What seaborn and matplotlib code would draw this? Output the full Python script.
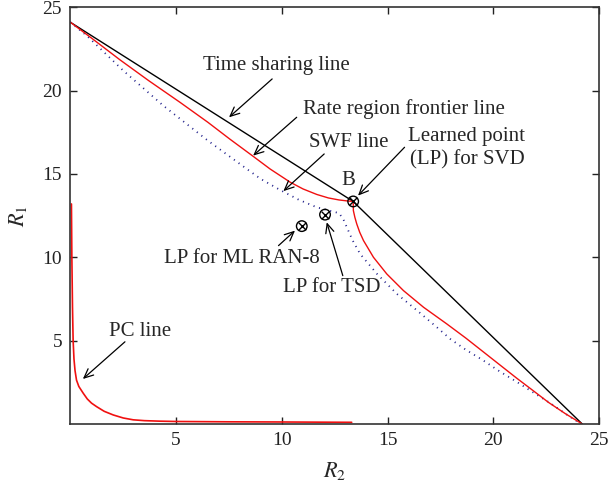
import matplotlib
matplotlib.use("Agg")
import matplotlib.pyplot as plt
import seaborn as sns

# curve data
ts_r2 = [0, 13.37, 24.2]
ts_r1 = [24.1, 13.35, 0]

rate_r2 = [0, 1.0, 2.34, 3.7, 5.18, 6.5, 7.55, 8.65, 9.44, 10.4, 11.0, 11.65, 12.2, 12.7, 13.1, 13.37,
           13.38, 13.45, 13.54, 13.68, 13.86, 14.33, 14.96, 15.75, 16.7, 17.8, 18.7, 19.5,
           20.3, 21.1, 21.9, 22.6, 23.4, 24.2]
rate_r1 = [24.1, 23.15, 21.85, 20.6, 19.3, 18.1, 17.08, 16.05, 15.3, 14.5, 14.1, 13.77, 13.56, 13.44, 13.38, 13.35,
           12.8, 12.4, 12.0, 11.5, 11.0, 10.0, 9.0, 8.0, 7.0, 6.0, 5.15, 4.35,
           3.55, 2.75, 1.98, 1.3, 0.62, 0]

swf_r2 = [0, 0.77, 2.5, 4.39, 6.5, 8.34, 9.0, 9.9, 10.8, 11.65, 12.3, 12.7,
          12.9, 13.07, 13.35, 13.7, 14.1, 14.5, 15.44, 16.4, 17.33, 17.96, 18.7, 19.5,
          20.3, 21.1, 21.9, 22.7, 23.4, 24.15]
swf_r1 = [24.1, 23.3, 21.2, 19.1, 17.0, 15.3, 14.7, 14.05, 13.45, 13.0, 12.78, 12.65,
          12.3, 11.8, 11.0, 10.2, 9.6, 9.0, 7.8, 6.8, 5.8, 5.1, 4.45, 3.83,
          3.15, 2.53, 1.88, 1.24, 0.62, 0]

pc_r2 = [0.05, 0.07, 0.1, 0.13, 0.17, 0.22, 0.29, 0.4, 0.61, 0.8, 1.0, 1.24, 1.6, 2.03,
         2.5, 2.97, 3.5, 4.2, 5.0, 7.5, 10.0, 13.3]
pc_r1 = [13.2, 10.0, 7.0, 5.0, 3.9, 3.2, 2.63, 2.25, 1.84, 1.5, 1.25, 1.04, 0.76, 0.54,
         0.36, 0.25, 0.2, 0.17, 0.15, 0.13, 0.12, 0.1]

# learned points: SVD (B), TSD, ML RAN-8
lp_r2 = [13.37, 12.04, 10.94]
lp_r1 = [13.35, 12.56, 11.87]

sns.set_theme(style="ticks")
plt.rcParams['font.family'] = ['Liberation Serif', 'DejaVu Serif']
plt.rcParams['mathtext.fontset'] = 'stix'

fig = plt.figure(figsize=(6.12, 4.84), dpi=100)
ax = fig.add_axes([0.115, 0.124, 0.979 - 0.115, 0.985 - 0.124])

sns.lineplot(x=ts_r2, y=ts_r1, ax=ax, color='black', lw=1.0, sort=False, estimator=None)
sns.lineplot(x=swf_r2, y=swf_r1, ax=ax, color='#22228c', lw=1.3, sort=False, estimator=None,
             linestyle=(0, (0.6, 2.6)))
sns.lineplot(x=rate_r2, y=rate_r1, ax=ax, color='#f01010', lw=1.0, sort=False, estimator=None)
sns.lineplot(x=pc_r2, y=pc_r1, ax=ax, color='#f01010', lw=1.2, sort=False, estimator=None)

sns.scatterplot(x=lp_r2, y=lp_r1, ax=ax, marker='o', s=58, facecolor='none',
                edgecolor='black', linewidth=1.0, zorder=5)
sns.scatterplot(x=lp_r2, y=lp_r1, ax=ax, marker='x', s=30, color='black',
                linewidth=1.0, zorder=6)

fs = 15
arrow = dict(arrowstyle='->,head_length=0.55,head_width=0.25', color='black', lw=0.9,
             shrinkA=0, shrinkB=0)

def note(tail, tip):
    ax.annotate('', xy=tip, xytext=tail, arrowprops=arrow)

ax.text(6.27, 21.5, 'Time sharing line', fontsize=fs, ha='left', va='center')
note((9.54, 20.7), (7.5, 18.4))
ax.text(11.0, 18.9, 'Rate region frontier line', fontsize=fs, ha='left', va='center')
note((10.7, 18.4), (8.64, 16.1))
ax.text(11.3, 16.9, 'SWF line', fontsize=fs, ha='left', va='center')
note((12.0, 16.2), (10.07, 13.97))
ax.text(18.75, 16.55, 'Learned point\n(LP) for SVD', fontsize=fs, ha='center', va='center',
        multialignment='center', linespacing=1.3)
note((15.8, 16.6), (13.6, 13.7))
ax.text(13.15, 14.6, 'B', fontsize=fs, ha='center', va='center')
ax.text(8.1, 9.9, 'LP for ML RAN-8', fontsize=fs, ha='center', va='center')
note((9.84, 10.7), (10.62, 11.6))
ax.text(10.04, 8.2, 'LP for TSD', fontsize=fs, ha='left', va='center')
note((12.88, 8.9), (12.12, 12.1))
ax.text(3.3, 5.55, 'PC line', fontsize=fs, ha='center', va='center')
note((2.58, 4.93), (0.59, 2.7))

ax.set_xlim(0, 25)
ax.set_ylim(0, 25)
ax.set_xticks([5, 10, 15, 20, 25])
ax.set_yticks([5, 10, 15, 20, 25])
ax.tick_params(direction='in', top=True, right=True, length=5, width=1.0,
               labelsize=14, colors='#222222', pad=6)
for sp in ax.spines.values():
    sp.set_visible(True)
    sp.set_color('#333333')
    sp.set_linewidth(1.2)

ax.set_xlabel(r'$R_2$', fontsize=16, labelpad=8)
ax.set_ylabel(r'$R_1$', fontsize=16, labelpad=10)

fig.savefig('out.png', dpi=100)
